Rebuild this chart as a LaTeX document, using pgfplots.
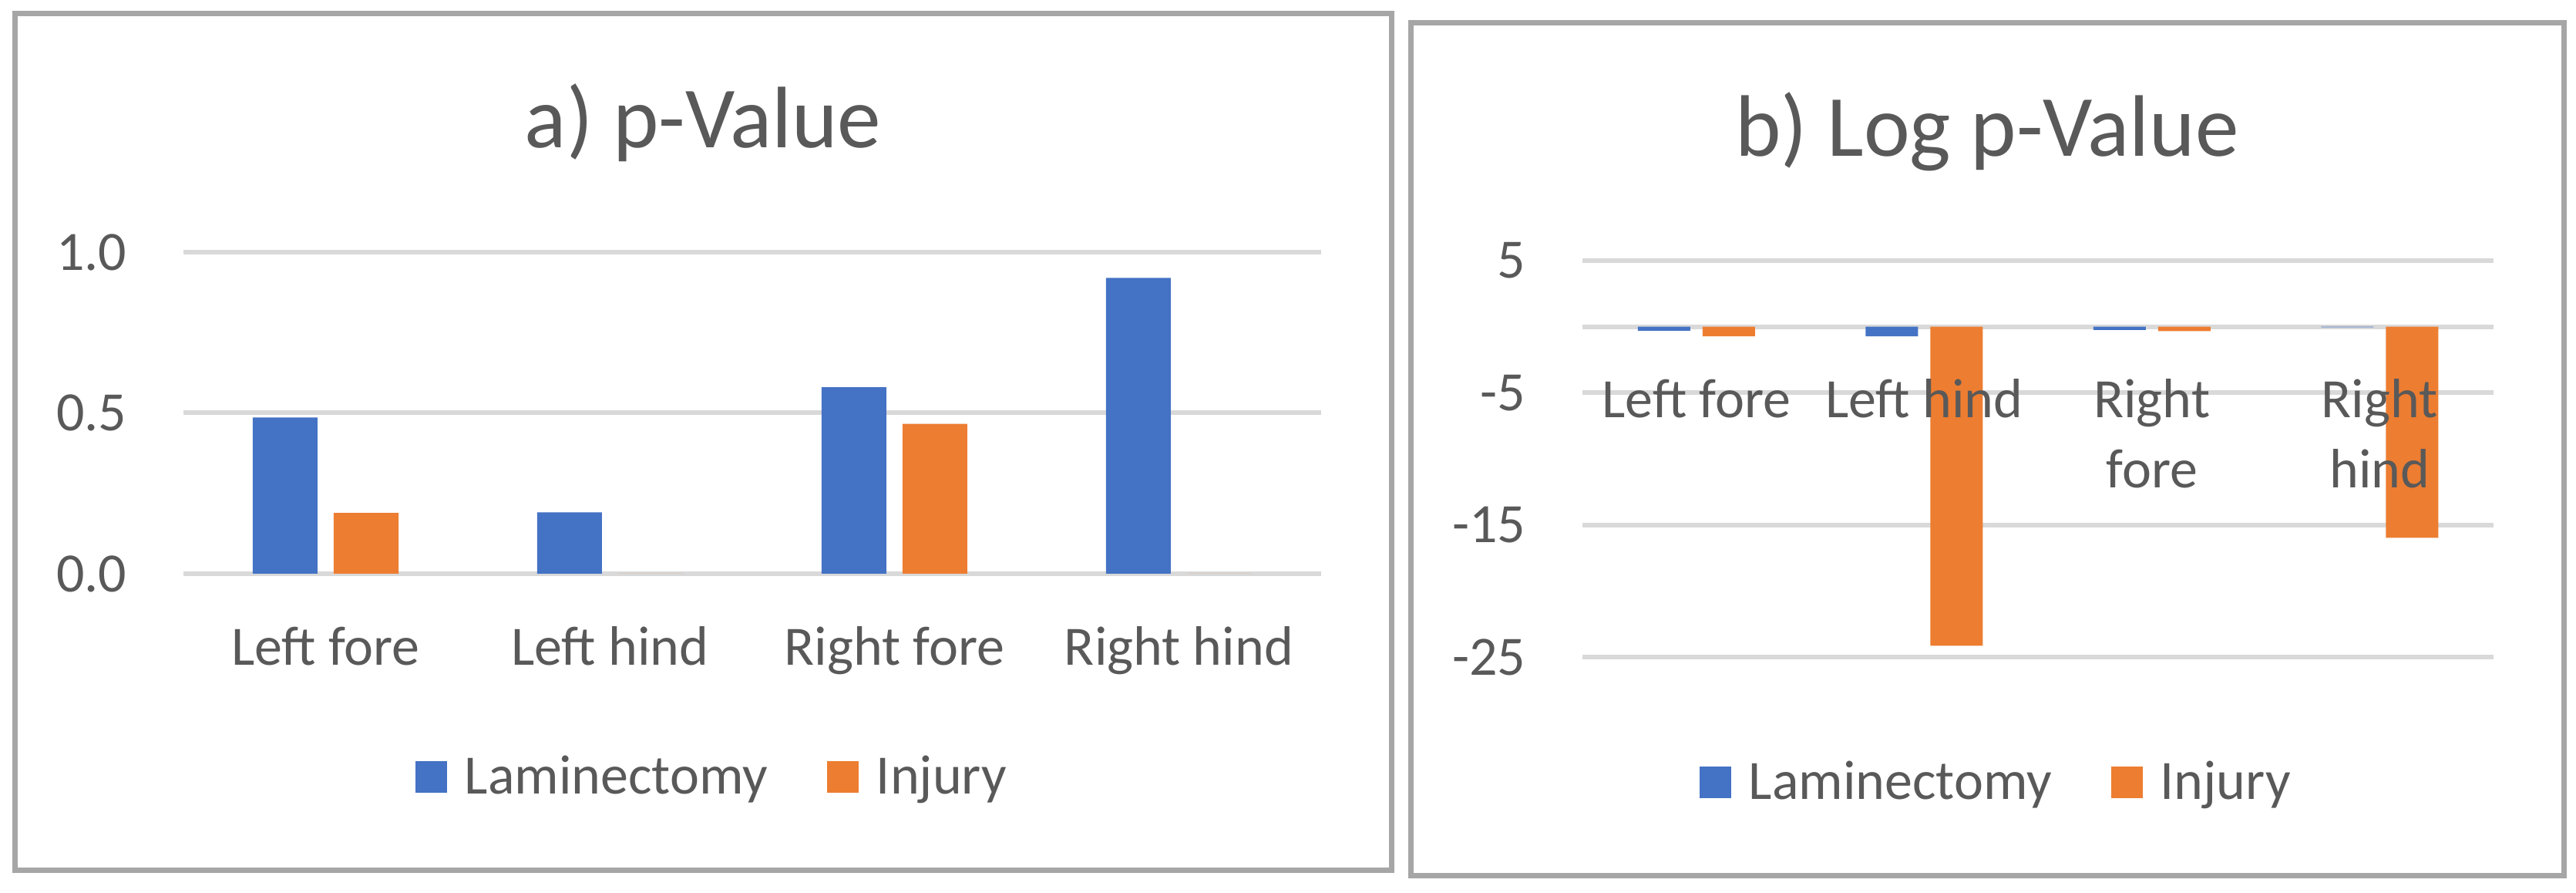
\documentclass[border=0pt]{standalone}
\usepackage{pgfplots}
\pgfplotsset{compat=1.18}
\usepackage{fontspec}
\setmainfont{Carlito}
\definecolor{barblue}{HTML}{4472C4}
\definecolor{barorange}{HTML}{ED7D31}
\definecolor{txtgray}{HTML}{595959}
\definecolor{gridgray}{HTML}{D9D9D9}
\definecolor{framegray}{HTML}{A6A6A6}
\newcommand{\smallfont}{\fontsize{18}{22.5}\selectfont}
\newcommand{\titlefont}{\fontsize{28.3}{34}\selectfont}
\newcommand{\twoline}[2]{\begin{tabular}[t]{@{}c@{}}#1\\#2\end{tabular}}
\pgfplotsset{
  excelbar/.style={
    scale only axis, anchor=south west,
    xmin=-0.5, xmax=3.5, xtick={0,1,2,3},
    ybar,
    axis line style={draw=none},
    major tick length=0pt,
    ymajorgrids, grid style={gridgray, line width=1.5pt},
    tick label style={font=\smallfont, text=txtgray, inner sep=0pt},
    yticklabel style={anchor=east, xshift=-18.25pt},
    xticklabel style={anchor=base},
    legend style={draw=none, fill=none, inner sep=0pt, font=\smallfont, text=txtgray,
      legend columns=-1,
      /tikz/every odd column/.append style={column sep=5.75pt},
      /tikz/every even column/.append style={column sep=19.25pt},
      cells={anchor=west}, nodes={inner sep=0pt}},
  }
}
\begin{document}
\begin{tikzpicture}
\path[use as bounding box] (0,0) rectangle (835.5pt,289.25pt);
\draw[framegray, line width=1.75pt] (4.875pt,7.125pt) rectangle (451.375pt,284.875pt);
\draw[framegray, line width=1.75pt] (457.625pt,5.5pt) rectangle (831.5pt,281.875pt);

\begin{axis}[excelbar,
  at={(59.5pt,103.25pt)}, width=369pt, height=104.25pt,
  ymin=0, ymax=1, ytick={0,0.5,1}, yticklabels={0.0,0.5,1.0},
  xticklabels={Left fore, Left hind, Right fore, Right hind},
  xticklabel style={yshift=-29.75pt},
  legend style={at={(0.2033,-0.633)}, anchor=west},
  legend image code/.code={\fill[#1] (0pt,-5.125pt) rectangle (10.25pt,5.125pt);},
]
\addplot[fill=barblue, draw=none, bar width=21pt, bar shift=-13.125pt]
  coordinates {(0,0.486) (1,0.191) (2,0.580) (3,0.920)};
\addplot[fill=barorange, draw=none, bar width=21pt, bar shift=13.125pt]
  coordinates {(0,0.189) (1,0) (2,0.466) (3,0)};
\legend{Laminectomy, Injury}
\end{axis}

\begin{axis}[excelbar,
  at={(513.25pt,76.25pt)}, width=295.5pt, height=128.5pt,
  ymin=-25, ymax=5, ytick={-25,-15,-5,5}, yticklabels={-25,-15,-5,5},
  extra y ticks={0}, extra y tick labels={}, extra y tick style={grid=major},
  xticklabels={},
  legend style={at={(0.1277,-0.317)}, anchor=west},
  legend image code/.code={\fill[#1] (0pt,-5.125pt) rectangle (10.25pt,5.125pt);},
]
\addplot[fill=barblue, draw=none, bar width=17pt, bar shift=-10.5pt]
  coordinates {(0,-0.31) (1,-0.72) (2,-0.24) (3,-0.04)};
\addplot[fill=barorange, draw=none, bar width=17pt, bar shift=10.5pt]
  coordinates {(0,-0.72) (1,-24.15) (2,-0.33) (3,-15.97)};
\legend{Laminectomy, Injury}
\end{axis}

% overlay axis: category labels drawn on top of the bars
\begin{axis}[excelbar,
  at={(513.25pt,76.25pt)}, width=295.5pt, height=128.5pt,
  ymin=-25, ymax=5, ytick=\empty, ymajorgrids=false,
  xticklabels={Left fore, Left hind, {\twoline{Right}{fore}}, {\twoline{Right}{hind}}},
  xticklabel style={yshift=77.5pt},
]
\end{axis}

\node[anchor=base, font=\titlefont, text=txtgray] at (228pt,241.25pt) {a) p-Value};
\node[anchor=base, font=\titlefont, text=txtgray] at (644.5pt,238.5pt) {b) Log p-Value};
\end{tikzpicture}
\end{document}
